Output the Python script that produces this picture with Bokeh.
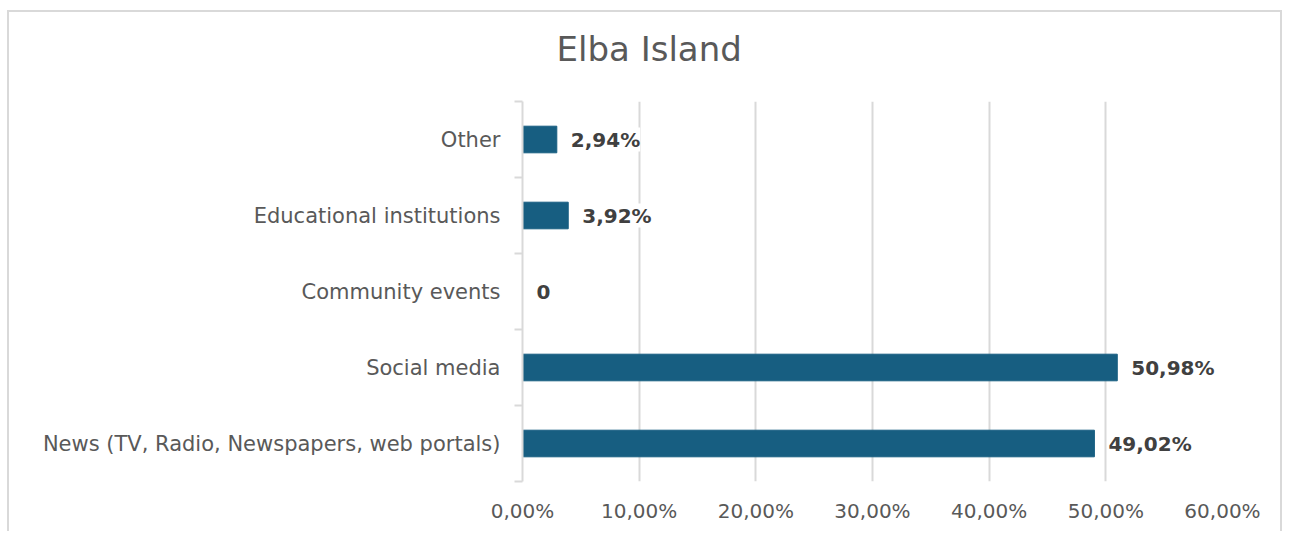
from bokeh.plotting import figure
from bokeh.models import ColumnDataSource, FixedTicker, Range1d, Title
from bokeh.core.properties import value
from bokeh.embed import file_html
from bokeh.resources import INLINE

title_text = "Elba Island"
categories = ["News (TV, Radio, Newspapers, web portals)", "Social media",
              "Community events", "Educational institutions", "Other"]
values = [49.02, 50.98, 0.0, 3.92, 2.94]
value_labels = ["49,02%", "50,98%", "0", "3,92%", "2,94%"]
x_ticks = [0, 10, 20, 30, 40, 50, 60]
x_tick_labels = ["0,00%", "10,00%", "20,00%", "30,00%", "40,00%", "50,00%", "60,00%"]

FONT = "DejaVu Sans"
BAR = "#175E81"
GRID = "#D9D9D9"
TXT = "#595959"

ypos = [i + 0.5 for i in range(len(categories))]
src = ColumnDataSource(dict(y=ypos, v=values, lab=value_labels))

p = figure(width=1275, height=521, output_backend="svg", toolbar_location=None,
           x_range=Range1d(0, 60), y_range=Range1d(0, len(categories)),
           min_border_left=513, min_border_right=62, min_border_top=89, min_border_bottom=52)
p.styles = {"border-top": "2px solid #D9D9D9", "border-left": "2px solid #D9D9D9",
            "border-right": "2px solid #D9D9D9", "margin-left": "7px", "margin-top": "10px"}
p.outline_line_color = None
p.background_fill_color = "white"
p.border_fill_color = "white"

# spacer panel between frame and title, then the title itself
spacer = Title(text=" ", text_font_size="1px", standoff=30, text_color="white")
p.add_layout(spacer, "above")
title = Title(text=title_text, text_font=FONT, text_font_size="34px",
              text_font_style="normal", text_color=TXT, align="left",
              offset=34, standoff=0)
p.add_layout(title, "above")

p.hbar(y="y", right="v", left=0, height=0.35, source=src, color=BAR, line_color=BAR)
p.text(x="v", y="y", text="lab", source=src, x_offset=14, text_align="left",
       text_baseline="middle", text_font=value(FONT), text_font_size="20px",
       text_font_style="bold", text_color="#404040",
       background_fill_color="white")

# x axis
p.xaxis.ticker = FixedTicker(ticks=x_ticks)
p.xaxis.major_label_overrides = {t: l for t, l in zip(x_ticks, x_tick_labels)}
p.xaxis.axis_line_color = None
p.xaxis.major_tick_line_color = None
p.xaxis.minor_tick_line_color = None
p.xaxis.major_label_text_font = FONT
p.xaxis.major_label_text_font_size = "20px"
p.xaxis.major_label_text_color = TXT
p.xaxis.major_label_standoff = 11

# y axis
p.yaxis.ticker = FixedTicker(ticks=ypos, minor_ticks=list(range(len(categories) + 1)))
p.yaxis.major_label_overrides = {y: c for y, c in zip(ypos, categories)}
p.yaxis.axis_line_color = GRID
p.yaxis.axis_line_width = 2
p.yaxis.major_tick_line_color = None
p.yaxis.minor_tick_line_color = GRID
p.yaxis.minor_tick_line_width = 2
p.yaxis.minor_tick_out = 8
p.yaxis.minor_tick_in = 0
p.yaxis.major_label_text_font = FONT
p.yaxis.major_label_text_font_size = "21px"
p.yaxis.major_label_text_color = TXT
p.yaxis.major_label_standoff = 14

p.xgrid.grid_line_color = GRID
p.xgrid.grid_line_width = 2
p.ygrid.grid_line_color = None

open("out.html", "w").write(file_html(p, INLINE))
